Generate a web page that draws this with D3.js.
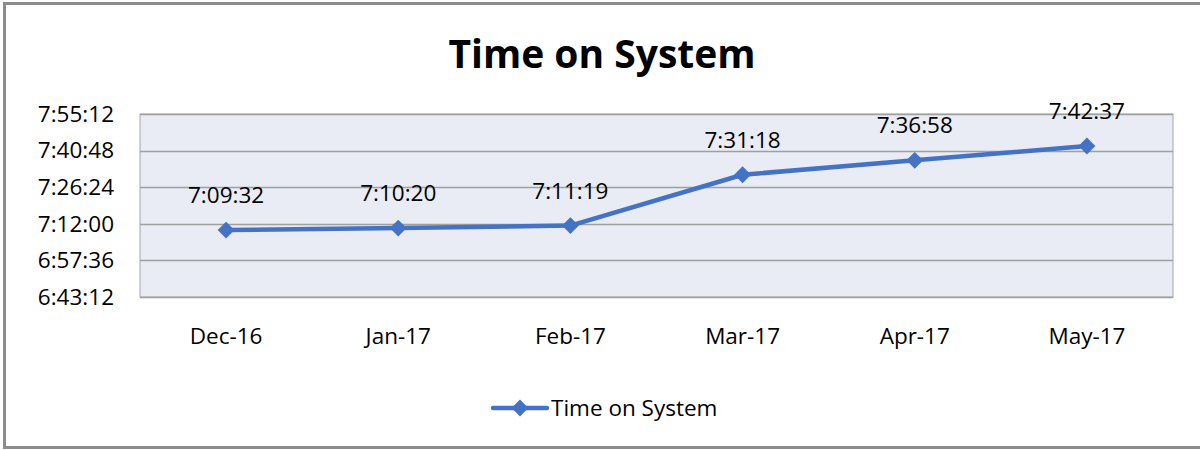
<!DOCTYPE html>
<html>
<head>
<meta charset="utf-8">
<script src="https://cdn.jsdelivr.net/npm/d3@7"></script>
<style>
  body { margin: 0; background: #fff; }
  text { font-family: "Open Sans", Lato, sans-serif; fill: #000; }
</style>
</head>
<body>
<svg id="chart" width="1200" height="450"></svg>
<script>
var months = ['Dec-16', 'Jan-17', 'Feb-17', 'Mar-17', 'Apr-17', 'May-17'];
var timeLabels = ['7:09:32', '7:10:20', '7:11:19', '7:31:18', '7:36:58', '7:42:37'];
var yTickLabels = ['6:43:12', '6:57:36', '7:12:00', '7:26:24', '7:40:48', '7:55:12'];

function toSec(s) {
  var p = s.split(':').map(Number);
  return p[0] * 3600 + p[1] * 60 + p[2];
}

var WIDTH = 1200, HEIGHT = 450;
var MARGINS = { top: 114, right: 27, bottom: 153, left: 140 };
var FONT = 22.5;

var svg = d3.select('#chart');

// outer border
svg.append('rect')
  .attr('x', 4.5).attr('y', 3.5)
  .attr('width', 1200).attr('height', 444)
  .attr('fill', 'none')
  .attr('stroke', '#8c8c8c')
  .attr('stroke-width', 3);

svg.append('text')
  .attr('x', 602).attr('y', 68)
  .attr('text-anchor', 'middle')
  .style('font-size', '39px')
  .style('font-weight', 'bold')
  .text('Time on System');

var x = d3.scaleBand()
  .domain(months)
  .range([MARGINS.left, WIDTH - MARGINS.right]);

var yTicks = yTickLabels.map(toSec);
var y = d3.scaleLinear()
  .domain([yTicks[0], yTicks[yTicks.length - 1]])
  .range([HEIGHT - MARGINS.bottom, MARGINS.top]);

// plot background
svg.append('rect')
  .attr('x', MARGINS.left)
  .attr('y', MARGINS.top)
  .attr('width', WIDTH - MARGINS.right - MARGINS.left)
  .attr('height', HEIGHT - MARGINS.bottom - MARGINS.top)
  .attr('fill', '#e9ebf5')
  .attr('stroke', '#a6a6a6')
  .attr('stroke-width', 1);

// gridlines
svg.append('g').selectAll('line')
  .data(yTicks)
  .enter().append('line')
  .attr('x1', MARGINS.left)
  .attr('x2', WIDTH - MARGINS.right)
  .attr('y1', function (d) { return Math.round(y(d)) + 0.5; })
  .attr('y2', function (d) { return Math.round(y(d)) + 0.5; })
  .attr('stroke', '#a0a0a0')
  .attr('stroke-width', 1.5);

// y axis
var yAxis = d3.axisLeft(y)
  .tickValues(yTicks)
  .tickSize(0)
  .tickPadding(26)
  .tickFormat(function (d, i) { return yTickLabels[i]; });

var gy = svg.append('g')
  .attr('transform', 'translate(' + MARGINS.left + ',0)')
  .call(yAxis);
gy.select('.domain').remove();
gy.selectAll('text')
  .style('font-size', FONT + 'px')
  .style('font-family', '"Open Sans", Lato, sans-serif')
  .attr('fill', '#000');

// x axis
var xAxis = d3.axisBottom(x).tickSize(0).tickPadding(31);
var gx = svg.append('g')
  .attr('transform', 'translate(0,' + (HEIGHT - MARGINS.bottom) + ')')
  .call(xAxis);
gx.select('.domain').remove();
gx.selectAll('text')
  .style('font-size', FONT + 'px')
  .style('font-family', '"Open Sans", Lato, sans-serif')
  .attr('fill', '#000');

var data = months.map(function (m, i) {
  return { month: m, label: timeLabels[i], value: toSec(timeLabels[i]) };
});

var lineGen = d3.line()
  .x(function (d) { return x(d.month) + x.bandwidth() / 2; })
  .y(function (d) { return y(d.value); });

svg.append('path')
  .attr('d', lineGen(data))
  .attr('stroke', '#4472c4')
  .attr('stroke-width', 4.5)
  .attr('stroke-linejoin', 'round')
  .attr('fill', 'none');

var diamond = d3.symbol().type(d3.symbolDiamond2).size(180);

svg.append('g').selectAll('path')
  .data(data)
  .enter().append('path')
  .attr('d', diamond)
  .attr('transform', function (d) {
    return 'translate(' + (x(d.month) + x.bandwidth() / 2) + ',' + y(d.value) + ')';
  })
  .attr('fill', '#4472c4');

// data labels
svg.append('g').selectAll('text')
  .data(data)
  .enter().append('text')
  .attr('x', function (d) { return x(d.month) + x.bandwidth() / 2; })
  .attr('y', function (d) { return y(d.value) - 27; })
  .attr('text-anchor', 'middle')
  .style('font-size', FONT + 'px')
  .text(function (d) { return d.label; });

// legend
var lg = svg.append('g').attr('transform', 'translate(493,408)');
lg.append('line')
  .attr('x1', 0).attr('x2', 54)
  .attr('stroke', '#4472c4')
  .attr('stroke-width', 4.5)
  .attr('stroke-linecap', 'round');
lg.append('path')
  .attr('d', diamond)
  .attr('transform', 'translate(27,0)')
  .attr('fill', '#4472c4');
lg.append('text')
  .attr('x', 58).attr('y', 8)
  .style('font-size', FONT + 'px')
  .text('Time on System');
</script>
</body>
</html>
